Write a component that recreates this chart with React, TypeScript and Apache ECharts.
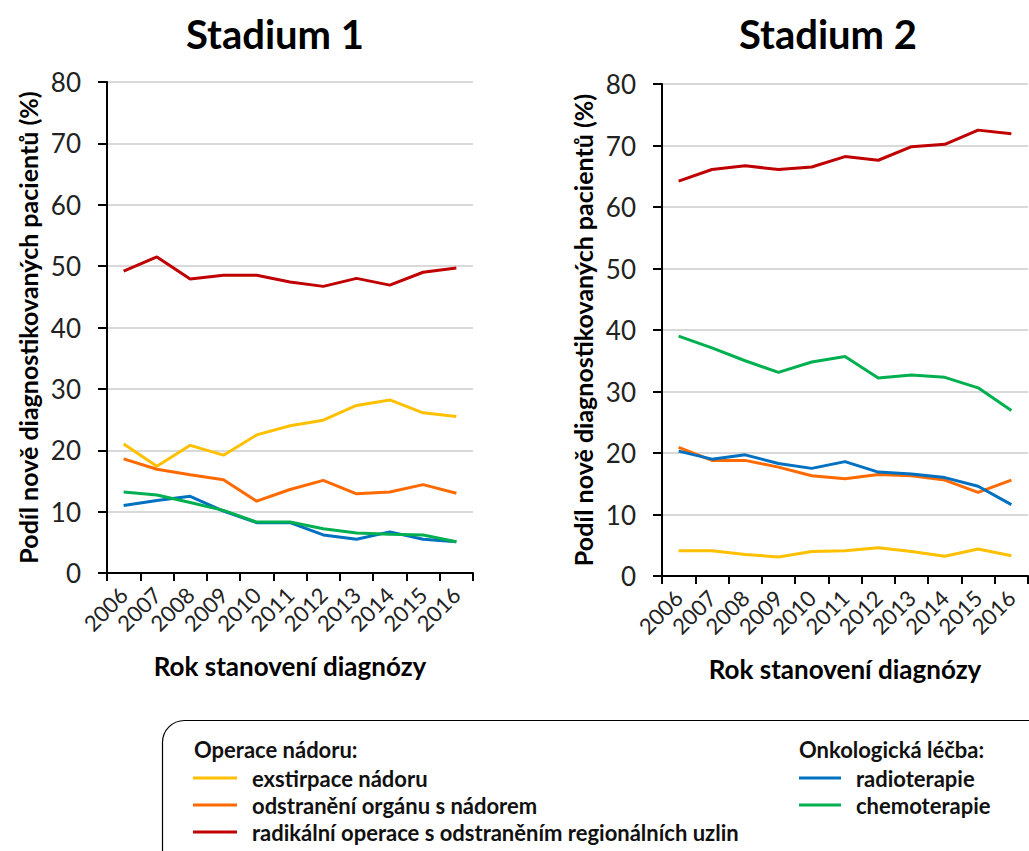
import React, { useEffect, useRef } from "react";
import * as echarts from "echarts";

const years = ["2006", "2007", "2008", "2009", "2010", "2011", "2012", "2013", "2014", "2015", "2016"];
const yTicks = [0, 80, 10]; // min, max, interval

const titles = ["Stadium 1", "Stadium 2"];
const yAxisName = "Podíl nově diagnostikovaných pacientů (%)";
const xAxisName = "Rok stanovení diagnózy";

const seriesNames = [
  "exstirpace nádoru",
  "odstranění orgánu s nádorem",
  "radikální operace s odstraněním regionálních uzlin",
  "radioterapie",
  "chemoterapie",
];
const seriesColors = ["#FFC000", "#FF6A00", "#C00000", "#0070C0", "#00B050"];

const groupHeadings = ["Operace nádoru:", "Onkologická léčba:"];
const group1 = [seriesNames[0], seriesNames[1], seriesNames[2]];
const group2 = [seriesNames[3], seriesNames[4]];

// Stadium 1
const s1Exstirpace = [21.0, 17.4, 20.8, 19.2, 22.5, 24.0, 24.9, 27.3, 28.2, 26.1, 25.5];
const s1Odstraneni = [18.6, 16.9, 16.0, 15.2, 11.7, 13.6, 15.1, 12.9, 13.2, 14.4, 13.0];
const s1Radikalni = [49.2, 51.5, 47.9, 48.5, 48.5, 47.4, 46.7, 48.0, 46.9, 49.0, 49.7];
const s1Radio = [11.0, 11.8, 12.5, 10.1, 8.2, 8.2, 6.2, 5.5, 6.7, 5.5, 5.1];
const s1Chemo = [13.2, 12.7, 11.5, 10.2, 8.3, 8.3, 7.2, 6.5, 6.3, 6.2, 5.1];

// Stadium 2
const s2Exstirpace = [4.1, 4.1, 3.5, 3.1, 4.0, 4.1, 4.6, 4.0, 3.2, 4.4, 3.3];
const s2Odstraneni = [20.9, 18.8, 18.8, 17.7, 16.3, 15.8, 16.5, 16.3, 15.6, 13.6, 15.6];
const s2Radikalni = [64.2, 66.1, 66.7, 66.1, 66.5, 68.2, 67.6, 69.8, 70.2, 72.5, 71.9];
const s2Radio = [20.3, 19.0, 19.7, 18.3, 17.5, 18.6, 16.9, 16.6, 16.0, 14.6, 11.6];
const s2Chemo = [39.0, 37.1, 35.0, 33.1, 34.8, 35.7, 32.2, 32.7, 32.3, 30.6, 26.9];

const stadium1 = [s1Exstirpace, s1Odstraneni, s1Radikalni, s1Radio, s1Chemo];
const stadium2 = [s2Exstirpace, s2Odstraneni, s2Radikalni, s2Radio, s2Chemo];

const FONT = "Lato";

function buildOption() {
  const grids = [
    { left: 107, top: 82, width: 366, height: 491 },
    { left: 662, top: 84, width: 366, height: 492 },
  ];
  const xAxes = grids.map((_, i) => ({
    type: "category",
    gridIndex: i,
    data: years,
    boundaryGap: true,
    name: xAxisName,
    nameLocation: "middle",
    nameGap: 80,
    nameTextStyle: { fontFamily: FONT, fontWeight: "bold", fontSize: 26, color: "#000" },
    axisLine: { lineStyle: { color: "#000", width: 2 } },
    axisTick: { show: true, length: 8, lineStyle: { color: "#000", width: 2 }, alignWithLabel: false },
    axisLabel: { rotate: 45, fontFamily: FONT, fontSize: 22, color: "#222", margin: 18, interval: 0 },
    splitLine: { show: false },
  }));
  const yAxes = grids.map((_, i) => ({
    type: "value",
    gridIndex: i,
    min: yTicks[0],
    max: yTicks[1],
    interval: yTicks[2],
    name: yAxisName,
    nameLocation: "middle",
    nameGap: 67,
    nameTextStyle: { fontFamily: FONT, fontWeight: "bold", fontSize: 25, color: "#000" },
    axisLine: { show: true, lineStyle: { color: "#000", width: 2 } },
    axisTick: { show: true, length: 9, lineStyle: { color: "#000", width: 2 } },
    axisLabel: { fontFamily: FONT, fontSize: 26, color: "#222", margin: 26 },
    splitLine: { show: true, lineStyle: { color: "#D9D9D9", width: 2 } },
  }));
  const series: any[] = [];
  [stadium1, stadium2].forEach((data, gi) => {
    data.forEach((vals, si) => {
      series.push({
        type: "line",
        name: seriesNames[si],
        xAxisIndex: gi,
        yAxisIndex: gi,
        data: vals,
        symbol: "none",
        showSymbol: false,
        lineStyle: { color: seriesColors[si], width: 3 },
        itemStyle: { color: seriesColors[si] },
        z: 2 + si,
      });
    });
  });
  const legendText = { fontFamily: FONT, fontWeight: "bold", fontSize: 22, color: "#111", padding: [0, 0, 0, 10], lineHeight: 22 };
  const headingStyle = { fontFamily: FONT, fontWeight: "bold", fontSize: 22, fill: "#111" };
  return {
    animation: false,
    backgroundColor: "#fff",
    title: [
      { text: titles[0], left: 270, top: 9, textAlign: "center", textStyle: { fontFamily: FONT, fontWeight: "bold", fontSize: 40, color: "#000" } },
      { text: titles[1], left: 823, top: 9, textAlign: "center", textStyle: { fontFamily: FONT, fontWeight: "bold", fontSize: 40, color: "#000" } },
    ],
    grid: grids,
    xAxis: xAxes,
    yAxis: yAxes,
    series,
    legend: [
      {
        data: group1,
        orient: "vertical",
        left: 193,
        top: 767,
        icon: "rect",
        itemWidth: 44,
        itemHeight: 3,
        itemGap: 5,
        padding: 0,
        textStyle: legendText,
        selectedMode: false,
      },
      {
        data: group2,
        orient: "vertical",
        left: 799,
        top: 767,
        icon: "rect",
        itemWidth: 42,
        itemHeight: 3,
        itemGap: 5,
        padding: 0,
        textStyle: legendText,
        selectedMode: false,
      },
    ],
    graphic: [
      {
        type: "rect",
        left: 160,
        top: 718,
        shape: { width: 900, height: 170, r: 22 },
        style: { fill: "none", stroke: "#000", lineWidth: 1.2 },
        silent: true,
      },
      {
        type: "text",
        left: 194,
        top: 738,
        style: { text: groupHeadings[0], ...headingStyle },
      },
      {
        type: "text",
        left: 799,
        top: 738,
        style: { text: groupHeadings[1], ...headingStyle },
      },
    ],
  };
}

export default function App() {
  const ref = useRef<HTMLDivElement>(null);
  useEffect(() => {
    if (!ref.current) return;
    const chart = echarts.init(ref.current, undefined, { renderer: "svg" });
    chart.setOption(buildOption() as any);
    return () => chart.dispose();
  }, []);
  return <div ref={ref} style={{ position: "absolute", left: 0, top: 0, width: 1029, height: 851 }} />;
}
